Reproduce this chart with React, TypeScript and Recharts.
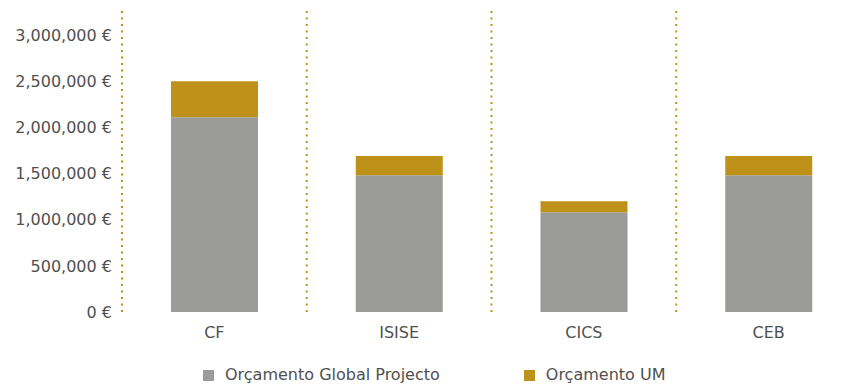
import { BarChart, Bar, XAxis, YAxis, CartesianGrid } from 'recharts'

const centers = ['CF', 'ISISE', 'CICS', 'CEB']
const globalBudget = [2110000, 1480000, 1080000, 1480000]
const umBudget = [390000, 210000, 120000, 210000]
const yTicks = [0, 500000, 1000000, 1500000, 2000000, 2500000, 3000000]
const legendItems = ['Orçamento Global Projecto', 'Orçamento UM']

const data = centers.map((name, i) => ({
  name,
  global: globalBudget[i],
  um: umBudget[i],
}))

const GRAY = '#9b9b99'
const GOLD = '#be9219'
const TEXT = '#505050'
const FONT = '"DejaVu Sans", sans-serif'

function formatEuro(value: number) {
  return `${value.toLocaleString('en-US')} €`
}

function ChartLegend() {
  const colors = [GRAY, GOLD]
  return (
    <div
      style={{
        position: 'absolute',
        left: 203,
        top: 366,
        display: 'flex',
        gap: 84,
        fontFamily: FONT,
        fontSize: 16,
        color: TEXT,
        lineHeight: '18px',
      }}
    >
      {legendItems.map((label, i) => (
        <div key={label} style={{ display: 'flex', alignItems: 'center' }}>
          <span style={{ width: 11, height: 11, background: colors[i], marginRight: 11, display: 'inline-block' }} />
          {label}
        </div>
      ))}
    </div>
  )
}

export default function App() {
  return (
    <div style={{ position: 'absolute', left: 0, top: 0, width: 846, height: 385, overflow: 'hidden', background: '#fff' }}>
      <BarChart
        width={880}
        height={342}
        data={data}
        margin={{ top: 11, right: 19, left: 0, bottom: 0 }}
        barSize={87}
      >
        <CartesianGrid
          horizontal={false}
          stroke={GOLD}
          strokeWidth={2}
          strokeDasharray="2 4.5"
          verticalCoordinatesGenerator={({ offset }: any) =>
            centers.map((_, i) => offset.left + (offset.width / centers.length) * i)
          }
        />
        <XAxis
          dataKey="name"
          height={30}
          axisLine={false}
          tickLine={false}
          tickMargin={9}
          tick={{ fill: TEXT, fontSize: 16, fontFamily: FONT }}
        />
        <YAxis
          domain={[0, 3260000]}
          ticks={yTicks}
          tickFormatter={formatEuro}
          axisLine={false}
          tickLine={false}
          tickMargin={4}
          width={122}
          tick={{ fill: TEXT, fontSize: 16, fontFamily: FONT }}
          allowDataOverflow
        />
        <Bar dataKey="global" stackId="a" fill={GRAY} isAnimationActive={false} name="Orçamento Global Projecto" />
        <Bar dataKey="um" stackId="a" fill={GOLD} isAnimationActive={false} name="Orçamento UM" />
      </BarChart>
      <ChartLegend />
    </div>
  )
}
